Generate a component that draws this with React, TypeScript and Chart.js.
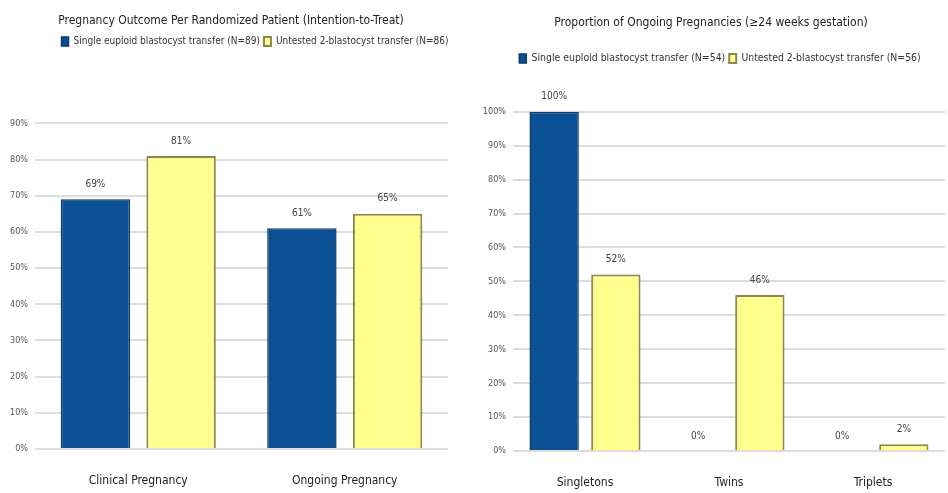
import React, { useEffect, useRef } from "react";
import { Chart, registerables } from "chart.js";

Chart.register(...registerables);

const FONT = "'Liberation Sans Narrow', 'DejaVu Sans Condensed', 'Liberation Sans', sans-serif";

// Left chart data
const leftTitle = "Pregnancy Outcome Per Randomized Patient (Intention-to-Treat)";
const leftCategories = ["Clinical Pregnancy", "Ongoing Pregnancy"];
const leftSeriesNames = ["Single euploid blastocyst transfer (N=89)", "Untested 2-blastocyst transfer (N=86)"];
const leftSingle = [69, 61];
const leftUntested = [81, 65];
const leftTicks = [0, 10, 20, 30, 40, 50, 60, 70, 80, 90];

// Right chart data
const rightTitle = "Proportion of Ongoing Pregnancies (\u226524 weeks gestation)";
const rightCategories = ["Singletons", "Twins", "Triplets"];
const rightSeriesNames = ["Single euploid blastocyst transfer (N=54)", "Untested 2-blastocyst transfer (N=56)"];
const rightSingle = [100, 0, 0];
const rightUntested = [52, 46, 2];
const rightTicks = [0, 10, 20, 30, 40, 50, 60, 70, 80, 90, 100];

const BLUE = "#0b4f95";
const BLUE_BORDER = "#0a3a6e";
const YELLOW = "#ffff8e";
const YELLOW_BORDER = "#8a8552";

const spacer = (extra: number, titleDx: number, legendDx: number) => ({
  id: "legendSpacer",
  beforeInit(chart: any) {
    const orig = chart.legend.fit;
    chart.legend.fit = function () {
      orig.call(this);
      this.height += extra;
    };
  },
  afterLayout(chart: any) {
    if (chart.titleBlock) {
      chart.titleBlock.left += titleDx;
      chart.titleBlock.right += titleDx;
    }
    if (chart.legend) {
      chart.legend.left += legendDx;
      chart.legend.right += legendDx;
    }
  },
});

const valueLabels = {
  id: "valueLabels",
  afterDatasetsDraw(chart: any) {
    const ctx = chart.ctx;
    ctx.save();
    ctx.font = `10px ${FONT}`;
    ctx.fillStyle = "#444";
    ctx.textAlign = "center";
    ctx.textBaseline = "middle";
    chart.data.datasets.forEach((ds: any, di: number) => {
      const meta = chart.getDatasetMeta(di);
      meta.data.forEach((el: any, i: number) => {
        ctx.fillText(`${ds.data[i]}%`, el.x, el.y - 15);
      });
    });
    ctx.restore();
  },
};

function makeConfig(
  title: string,
  categories: string[],
  names: string[],
  a: number[],
  b: number[],
  ticks: number[],
  o: {
    yWidth: number;
    xHeight: number;
    titleTop: number;
    titleBottom: number;
    extra: number;
    catPct: number;
    barPct: number;
    rightPad: number;
    legendSize: number;
    titleDx: number;
    legendDx: number;
  }
): any {
  const max = ticks[ticks.length - 1];
  return {
    type: "bar",
    data: {
      labels: categories,
      datasets: [
        { label: names[0], data: a, backgroundColor: BLUE, borderColor: BLUE_BORDER, borderWidth: 1.5 },
        { label: names[1], data: b, backgroundColor: YELLOW, borderColor: YELLOW_BORDER, borderWidth: 2 },
      ],
    },
    options: {
      responsive: false,
      animation: false,
      layout: { padding: { left: 0, right: o.rightPad, top: 0, bottom: 0 } },
      datasets: { bar: { categoryPercentage: o.catPct, barPercentage: o.barPct } },
      plugins: {
        title: {
          display: true,
          text: title,
          color: "#222",
          font: { family: FONT, size: 12, weight: "normal" },
          padding: { top: o.titleTop, bottom: o.titleBottom },
        },
        legend: {
          display: true,
          labels: {
            boxWidth: 7,
            boxHeight: 9,
            padding: 4,
            color: "#333",
            font: { family: FONT, size: o.legendSize },
          },
        },
        tooltip: { enabled: false },
      },
      scales: {
        x: {
          grid: { display: false, drawTicks: false },
          border: { display: false },
          ticks: { color: "#222", font: { family: FONT, size: 12 }, padding: 25 },
          afterFit: (s: any) => {
            s.height = o.xHeight;
          },
        },
        y: {
          min: 0,
          max,
          afterBuildTicks: (s: any) => {
            s.ticks = ticks.map((v) => ({ value: v }));
          },
          ticks: {
            callback: (v: any) => `${v}%`,
            color: "#555",
            font: { family: FONT, size: 9 },
            padding: 7,
          },
          grid: { color: "#dcdcdc", lineWidth: 2, drawTicks: false },
          border: { display: false },
          afterFit: (s: any) => {
            s.width = o.yWidth;
          },
        },
      },
    },
    plugins: [spacer(o.extra, o.titleDx, o.legendDx), valueLabels],
  };
}

export default function App() {
  const leftRef = useRef<HTMLCanvasElement>(null);
  const rightRef = useRef<HTMLCanvasElement>(null);

  useEffect(() => {
    const c1 = new Chart(
      leftRef.current!,
      makeConfig(leftTitle, leftCategories, leftSeriesNames, leftSingle, leftUntested, leftTicks, {
        yWidth: 35,
        xHeight: 44,
        titleTop: 14,
        titleBottom: 4,
        extra: 67,
        catPct: 0.83,
        barPct: 0.81,
        rightPad: 17,
        legendSize: 10,
        titleDx: 7,
        legendDx: 31,
      })
    );
    const c2 = new Chart(
      rightRef.current!,
      makeConfig(rightTitle, rightCategories, rightSeriesNames, rightSingle, rightUntested, rightTicks, {
        yWidth: 48,
        xHeight: 42,
        titleTop: 16,
        titleBottom: 19,
        extra: 38,
        catPct: 0.857,
        barPct: 0.8,
        rightPad: 3,
        legendSize: 10.4,
        titleDx: 6,
        legendDx: 15,
      })
    );
    return () => {
      c1.destroy();
      c2.destroy();
    };
  }, []);

  return (
    <div style={{ position: "fixed", left: 0, top: 0, width: 948, height: 493, background: "#fff" }}>
      <canvas ref={leftRef} width={465} height={493} style={{ position: "absolute", left: 0, top: 0 }} />
      <canvas ref={rightRef} width={483} height={493} style={{ position: "absolute", left: 465, top: 0 }} />
    </div>
  );
}
